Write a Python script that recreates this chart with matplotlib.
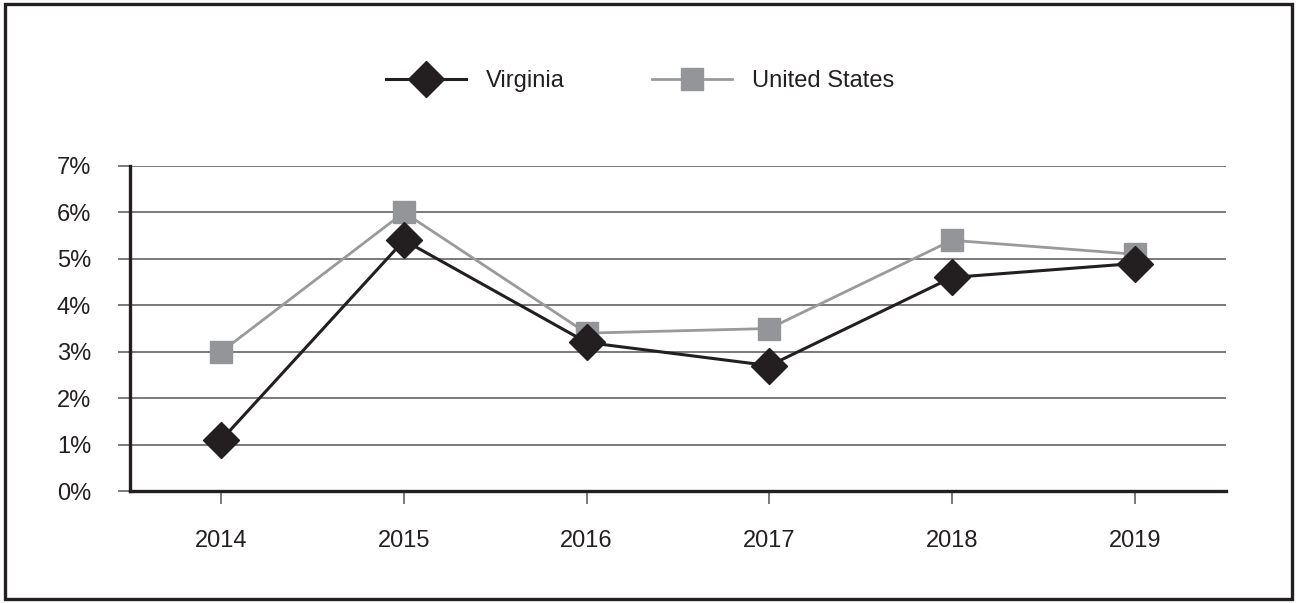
import matplotlib
matplotlib.use("Agg")
import matplotlib.pyplot as plt
from matplotlib.patches import Rectangle

years = ["2014", "2015", "2016", "2017", "2018", "2019"]
virginia = [1.1, 5.4, 3.2, 2.7, 4.6, 4.9]
united_states = [3.0, 6.0, 3.4, 3.5, 5.4, 5.1]
y_ticks = [0, 1, 2, 3, 4, 5, 6, 7]
y_labels = ["0%", "1%", "2%", "3%", "4%", "5%", "6%", "7%"]

plt.rcParams['font.family'] = ['Liberation Sans', 'DejaVu Sans']

W, H = 1296, 603
fig = plt.figure(figsize=(W / 100, H / 100), dpi=100)
ax = fig.add_axes([130 / W, 1 - 491 / H, (1226 - 130) / W, (491 - 166) / H])

x = list(range(len(years)))
dark = '#231f20'
gray_line = '#9a9a9a'
gray_mark = '#939598'

ax.plot(x, united_states, color=gray_line, lw=2, marker='s', ms=16.5,
        mfc=gray_mark, mec=gray_mark, label='United States', zorder=3)
ax.plot(x, virginia, color=dark, lw=2.2, marker='D', ms=18,
        mfc=dark, mec=dark, label='Virginia', zorder=4)

ax.set_xlim(-0.5, 5.5)
ax.set_ylim(0, 7)
ax.set_yticks(y_ticks)
ax.set_yticklabels(y_labels)
ax.set_xticks(x)
ax.set_xticklabels(years)

ax.grid(axis='y', color='#555555', lw=1.1, zorder=1)
ax.set_axisbelow(True)
for s in ['top', 'right']:
    ax.spines[s].set_visible(False)
for s in ['left', 'bottom']:
    ax.spines[s].set_color(dark)
    ax.spines[s].set_linewidth(2.4)
    ax.spines[s].set_zorder(5)

ax.tick_params(axis='both', labelsize=17, colors='#555555', labelcolor=dark,
               length=9, width=1.1, pad=19)

handles, labels = ax.get_legend_handles_labels()
leg = fig.legend(handles[::-1], labels[::-1], loc='center', ncol=2,
                 bbox_to_anchor=(640 / W, 1 - 81 / H), frameon=False,
                 fontsize=17, handlelength=3.39, handletextpad=0.85,
                 columnspacing=3.68, labelcolor=dark)

fig.patches.append(Rectangle((5 / W, 4 / H), (1292 - 5) / W, (599 - 4) / H,
                             transform=fig.transFigure, fill=False,
                             edgecolor=dark, lw=2.4))

fig.savefig('out.png', dpi=100)
